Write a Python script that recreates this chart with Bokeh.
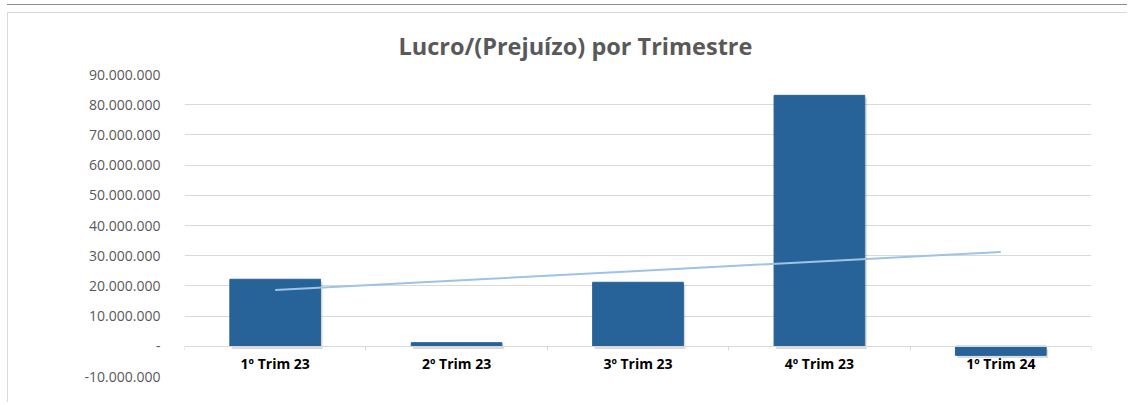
import numpy as np
from bokeh.plotting import figure
from bokeh.models import (Range1d, FixedTicker, LinearAxis, Title, ColumnDataSource)
from bokeh.transform import dodge
from bokeh.embed import file_html
from bokeh.resources import INLINE

# ---------------- data ----------------
categories = ["1º Trim 23", "2º Trim 23", "3º Trim 23", "4º Trim 23", "1º Trim 24"]
lucro = [22_200_000, 1_200_000, 21_200_000, 83_100_000, -3_000_000]
y_ticks = [-10_000_000, 0, 10_000_000, 20_000_000, 30_000_000, 40_000_000,
           50_000_000, 60_000_000, 70_000_000, 80_000_000, 90_000_000]
y_tick_labels = ["-10.000.000", "-", "10.000.000", "20.000.000", "30.000.000",
                 "40.000.000", "50.000.000", "60.000.000", "70.000.000",
                 "80.000.000", "90.000.000"]
title_text = "Lucro/(Prejuízo) por Trimestre"

n = len(categories)
pos = [i + 0.5 for i in range(n)]          # category slot centres
bounds = list(range(n + 1))                # category slot boundaries

# linear trend line (Excel-style) computed from the series
idx = np.arange(1, n + 1)
slope, intercept = np.polyfit(idx, lucro, 1)
trend = list(slope * idx + intercept)

src = ColumnDataSource(data=dict(x=pos, val=lucro, base=[0] * n, trend=trend))

FONT = "Open Sans"

p = figure(x_range=Range1d(0, n),
           y_range=Range1d(y_ticks[0], y_ticks[-1]),
           width=1120, height=390,
           output_backend="svg", toolbar_location=None,
           x_axis_location=None,
           min_border_left=176, min_border_right=37,
           min_border_top=61, min_border_bottom=27)
p.outline_line_color = None
p.background_fill_color = "white"
p.border_fill_color = "white"

# y axis
p.yaxis.ticker = FixedTicker(ticks=y_ticks)
p.yaxis.major_label_overrides = {t: l for t, l in zip(y_ticks, y_tick_labels)}
p.yaxis.axis_line_color = None
p.yaxis.major_tick_line_color = None
p.yaxis.minor_tick_line_color = None
p.yaxis.major_label_standoff = 18
p.yaxis.major_label_text_font = FONT
p.yaxis.major_label_text_font_size = "14px"
p.yaxis.major_label_text_color = "#595959"

p.ygrid.ticker = FixedTicker(ticks=y_ticks)
p.ygrid.grid_line_color = "#d9d9d9"
p.ygrid.grid_line_width = 1
p.xgrid.grid_line_color = None

# zero axis with boundary tick marks
tick_axis = LinearAxis(fixed_location=0,
                       ticker=FixedTicker(ticks=bounds),
                       major_label_overrides={b: "" for b in bounds},
                       major_tick_out=4, major_tick_in=0,
                       minor_tick_line_color=None,
                       axis_line_color="#d9d9d9",
                       major_tick_line_color="#d9d9d9")
p.add_layout(tick_axis, "below")

cat_axis = LinearAxis(fixed_location=0,
                      ticker=FixedTicker(ticks=pos),
                      major_label_overrides={x: c for x, c in zip(pos, categories)},
                      major_tick_line_color=None,
                      minor_tick_line_color=None,
                      axis_line_color=None,
                      major_label_standoff=2,
                      major_label_text_font=FONT,
                      major_label_text_font_style="bold",
                      major_label_text_font_size="14px",
                      major_label_text_color="#000000")
p.add_layout(cat_axis, "below")

# bar shadows (soft offset)
p.vbar(x=dodge("x", 0.011), top=dodge("val", -900_000), bottom=dodge("base", -900_000),
       width=0.5, source=src, fill_color="#000000", fill_alpha=0.14, line_color=None)

# bars
p.vbar(x="x", top="val", width=0.5, source=src,
       fill_color="#276398", line_color="#276398")

# trend line
p.line(x="x", y="trend", source=src, line_color="#9DC3E6", line_width=2)

# title
p.add_layout(Title(text=title_text, align="left", offset=214, standoff=26,
                   text_font=FONT, text_font_style="bold",
                   text_font_size="23.5px", text_color="#595959"), "above")

p.styles = {"margin-left": "7px", "margin-top": "12px",
            "border-left": "1px solid #d9d9d9", "border-top": "1px solid #d9d9d9",
            "box-shadow": "0 -7px 0 0 white, 0 -8px 0 0 #8c8c8c"}

open("out.html", "w").write(file_html(p, INLINE))
